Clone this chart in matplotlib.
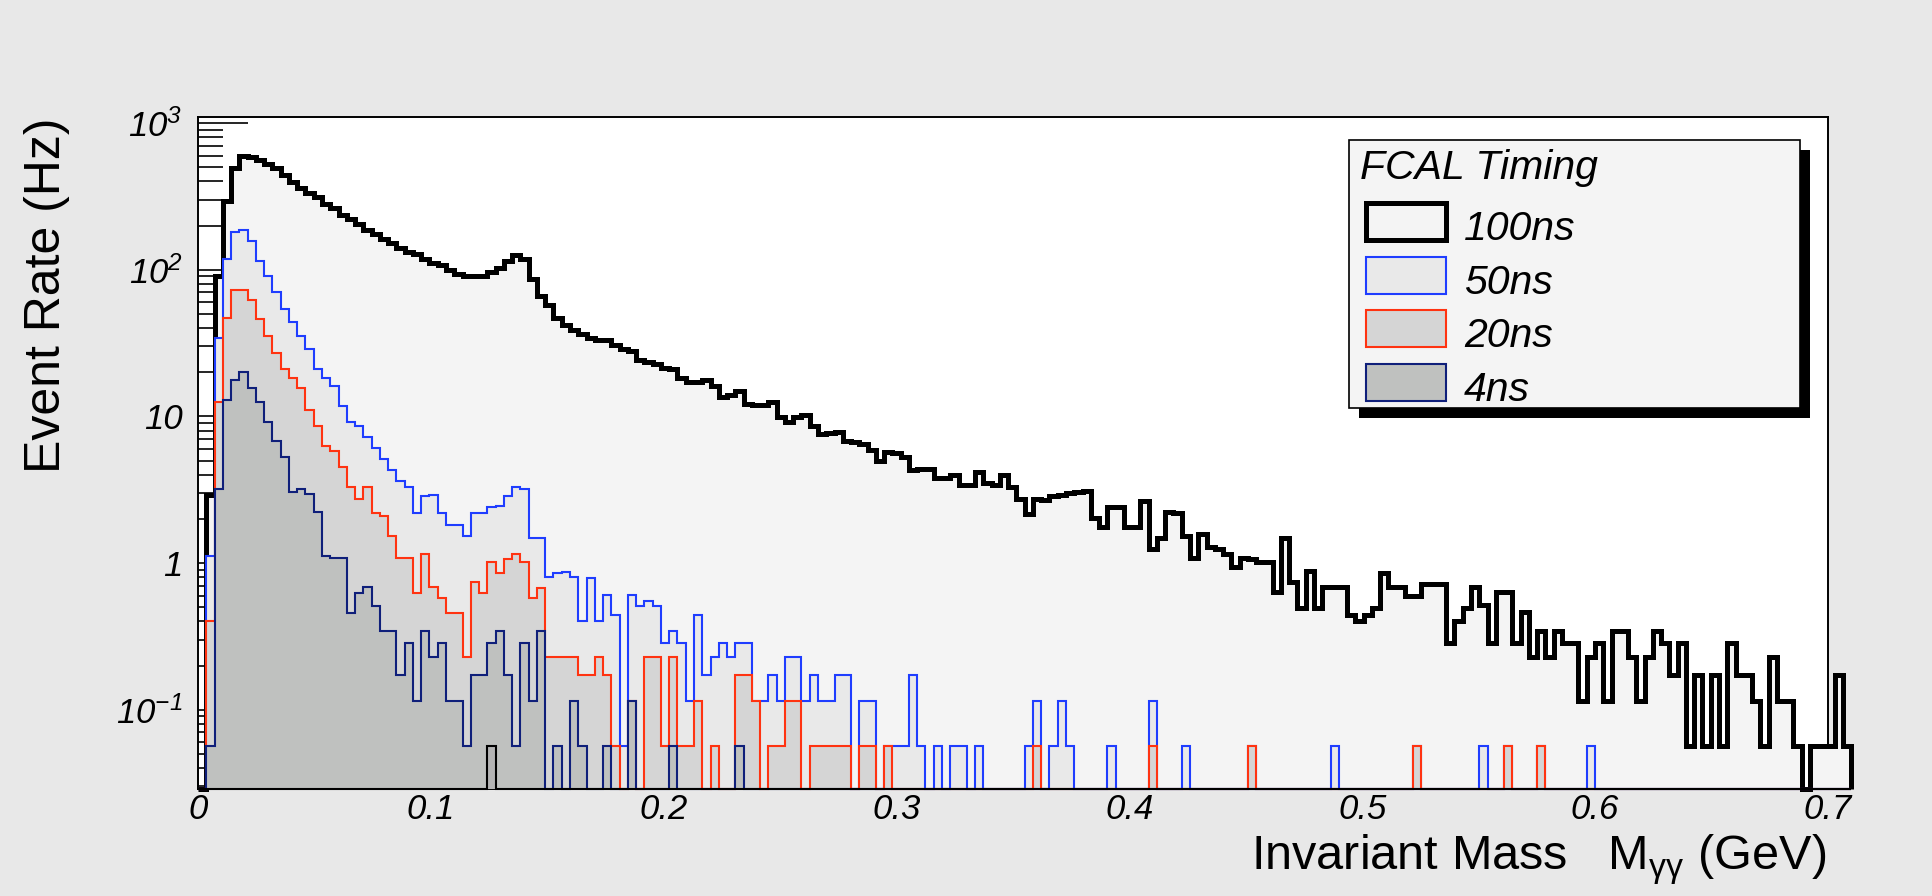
import numpy as np
import matplotlib
matplotlib.use("Agg")
import matplotlib.pyplot as plt
from matplotlib.patches import Rectangle
from matplotlib.ticker import MultipleLocator, LogLocator, NullFormatter

plt.rcParams['font.family'] = ['Liberation Sans', 'DejaVu Sans']

# binning of the invariant mass histograms (GeV), 200 bins
edges = np.linspace(0.0, 0.71, 201)

# event rate per bin (Hz)
rate_100ns = [
    0, 2.9, 91, 292, 490, 600, 590, 560, 525, 490,
    441, 398, 359, 335, 313, 282, 264, 237, 222, 204,
    186, 174, 162, 151, 141, 132, 127, 119, 111, 107,
    100, 93, 90, 90, 91, 97, 103, 115, 126, 119,
    87, 66, 57, 47, 42, 39, 36.5, 34, 33, 33,
    30.7, 28.8, 27.8, 24.3, 23.5, 22.7, 21.5, 20.9, 18.4, 17.2,
    17.2, 17.8, 16, 13.5, 14, 15, 12.2, 12.0, 12.0, 12.6,
    9.9, 9.1, 9.9, 10.2, 8.6, 7.6, 7.7, 7.8, 6.8, 6.7,
    6.5, 5.9, 5.0, 5.7, 5.6, 5.3, 4.3, 4.4, 4.4, 3.8,
    3.8, 4.0, 3.4, 3.4, 4.2, 3.5, 3.4, 4.0, 3.3, 2.75,
    2.16, 2.75, 2.7, 2.85, 2.9, 3.0, 3.05, 3.1, 2.02, 1.76,
    2.4, 2.4, 1.76, 1.76, 2.66, 1.24, 1.48, 2.24, 2.2, 1.53,
    1.08, 1.58, 1.29, 1.24, 1.16, 0.94, 1.08, 1.07, 1.01, 1.01,
    0.63, 1.48, 0.74, 0.49, 0.88, 0.49, 0.69, 0.69, 0.69, 0.44,
    0.40, 0.44, 0.49, 0.85, 0.69, 0.69, 0.60, 0.60, 0.72, 0.72,
    0.72, 0.286, 0.40, 0.49, 0.69, 0.52, 0.286, 0.63, 0.63, 0.286,
    0.46, 0.229, 0.343, 0.229, 0.343, 0.286, 0.286, 0.114, 0.229, 0.286,
    0.114, 0.343, 0.343, 0.229, 0.114, 0.229, 0.343, 0.286, 0.172, 0.286,
    0.057, 0.172, 0.057, 0.172, 0.057, 0.286, 0.172, 0.172, 0.114, 0.057,
    0.229, 0.114, 0.114, 0.057, 0, 0.057, 0.057, 0.057, 0.172, 0.057,
]

rate_50ns = [
    0, 1.12, 34, 119, 180, 186, 157, 115, 90, 71,
    54, 44, 35.5, 29, 21, 18.2, 16, 11.7, 9.2, 8.6,
    7.2, 6.1, 5.1, 4.3, 3.6, 3.3, 2.2, 2.85, 2.9, 2.2,
    1.82, 1.82, 1.53, 2.2, 2.2, 2.4, 2.45, 2.85, 3.3, 3.2,
    1.48, 1.48, 0.80, 0.85, 0.87, 0.80, 0.40, 0.79, 0.40, 0.61,
    0.44, 0.057, 0.61, 0.51, 0.55, 0.51, 0.286, 0.343, 0.286, 0.114,
    0.44, 0.172, 0.229, 0.286, 0.229, 0.286, 0.286, 0.114, 0.114, 0.172,
    0.114, 0.229, 0.229, 0.114, 0.172, 0.114, 0.114, 0.172, 0.172, 0,
    0.114, 0.114, 0, 0.057, 0.057, 0.057, 0.172, 0.057, 0, 0.057,
    0, 0.057, 0.057, 0, 0.057, 0, 0, 0, 0, 0,
    0.057, 0.114, 0, 0.057, 0.114, 0.057, 0, 0, 0, 0,
    0.057, 0, 0, 0, 0, 0.114, 0, 0, 0, 0.057,
    0, 0, 0, 0, 0, 0, 0, 0.057, 0, 0,
    0, 0, 0, 0, 0, 0, 0, 0.057, 0, 0,
    0, 0, 0, 0, 0, 0, 0, 0.057, 0, 0,
    0, 0, 0, 0, 0, 0.057, 0, 0, 0.057, 0,
    0, 0, 0.057, 0, 0, 0, 0, 0, 0.057, 0,
    0, 0, 0, 0, 0, 0, 0, 0, 0, 0,
    0, 0, 0, 0, 0, 0, 0, 0, 0, 0,
    0, 0, 0, 0, 0, 0, 0, 0, 0, 0,
]

rate_20ns = [
    0, 0.40, 12.6, 47, 73, 73, 62, 46, 35.5, 27,
    21, 18.2, 15.5, 11.1, 8.6, 6.3, 5.8, 4.5, 3.3, 2.75,
    3.3, 2.2, 2.1, 1.53, 1.08, 1.08, 0.62, 1.16, 0.69, 0.58,
    0.458, 0.458, 0.229, 0.74, 0.62, 1.01, 0.85, 1.06, 1.16, 1.01,
    0.58, 0.68, 0.229, 0.229, 0.229, 0.229, 0.172, 0.172, 0.229, 0.172,
    0.057, 0, 0.114, 0, 0.229, 0.229, 0.057, 0.229, 0.057, 0.057,
    0.114, 0, 0.057, 0, 0, 0.172, 0.172, 0.114, 0, 0.057,
    0.057, 0.114, 0.114, 0, 0.057, 0.057, 0.057, 0.057, 0.057, 0,
    0.057, 0.057, 0, 0.057, 0, 0, 0, 0, 0, 0,
    0, 0, 0, 0, 0, 0, 0, 0, 0, 0,
    0, 0.057, 0, 0, 0, 0, 0, 0, 0, 0,
    0, 0, 0, 0, 0, 0.057, 0, 0, 0, 0,
    0, 0, 0, 0, 0, 0, 0, 0.057, 0, 0,
    0, 0, 0, 0, 0, 0, 0, 0, 0, 0,
    0, 0, 0, 0, 0, 0, 0, 0.057, 0, 0,
    0, 0, 0, 0, 0, 0, 0, 0, 0.057, 0,
    0, 0, 0.057, 0, 0, 0, 0, 0, 0, 0,
    0, 0, 0, 0, 0, 0, 0, 0, 0, 0,
    0, 0, 0, 0, 0, 0, 0, 0, 0, 0,
    0, 0, 0, 0, 0, 0, 0, 0, 0, 0,
]

rate_4ns = [
    0, 0.057, 3.2, 13, 17.8, 20, 15.5, 12.6, 9.1, 6.8,
    5.3, 3.05, 3.2, 2.95, 2.24, 1.12, 1.08, 1.08, 0.458, 0.62,
    0.69, 0.51, 0.343, 0.343, 0.172, 0.286, 0.114, 0.343, 0.229, 0.286,
    0.114, 0.114, 0.057, 0.172, 0.172, 0.286, 0.343, 0.172, 0.057, 0.286,
    0.114, 0.343, 0, 0.057, 0, 0.114, 0.057, 0, 0, 0.057,
    0, 0, 0.114, 0, 0, 0, 0, 0.057, 0, 0,
    0, 0, 0, 0, 0, 0.057, 0, 0, 0, 0,
] + [0] * 130

# one extra unlabelled histogram with a single entry
rate_other = [0] * 35 + [0.057] + [0] * 164

labels = ['100ns', '50ns', '20ns', '4ns']
fills = ['#f4f4f4', '#e9e9e9', '#d5d5d5', '#bfc1bf']
lines = ['black', '#1f3dff', '#ff3311', '#0f1f7a']
widths = [3.6, 1.5, 1.5, 1.5]

xticks = [0, 0.1, 0.2, 0.3, 0.4, 0.5, 0.6, 0.7]
xtick_labels = ['0', '0.1', '0.2', '0.3', '0.4', '0.5', '0.6', '0.7']
yticks = [0.1, 1, 10, 100, 1000]
ytick_labels = [r'$\mathregular{10^{-1}}$', '1', '10',
                r'$\mathregular{10^{2}}$', r'$\mathregular{10^{3}}$']

W, H = 1933, 896
ymin, ymax = 0.0288, 1099

fig = plt.figure(figsize=(W / 100, H / 100), dpi=100, facecolor='#e8e8e8')
ax = fig.add_axes([198 / W, 1 - 789 / H, (1828 - 198) / W, (789 - 117) / H])
ax.set_facecolor('white')
ax.set_yscale('log')
ax.set_axisbelow(True)


def draw_hist(rates, face, edge, lw, z):
    r = np.maximum(np.asarray(rates, dtype=float), ymin)
    ax.stairs(r, edges, baseline=ymin, fill=True, facecolor=face,
              zorder=z, clip_on=False)
    ax.stairs(r, edges, baseline=ymin, fill=False, edgecolor=edge, lw=lw,
              joinstyle='miter', zorder=z + 0.1, clip_on=False)


all_rates = [rate_100ns, rate_50ns, rate_20ns, rate_4ns]
for i in range(4):
    draw_hist(all_rates[i], fills[i], lines[i], widths[i], 1 + i)
draw_hist(rate_other, '#b4b4b4', 'black', 1.5, 6)

ax.set_xlim(0, 0.70)
ax.set_ylim(ymin, ymax)

for s in ax.spines.values():
    s.set_linewidth(1.4)
    s.set_zorder(0.6)

ax.set_xticks(xticks)
ax.set_xticklabels(xtick_labels, fontsize=25, fontstyle='italic')
ax.xaxis.set_minor_locator(MultipleLocator(0.02))
ax.set_yticks(yticks)
ax.set_yticklabels(ytick_labels, fontsize=25, fontstyle='italic')
ax.yaxis.set_minor_locator(LogLocator(base=10, subs=np.arange(2, 10), numticks=20))
ax.yaxis.set_minor_formatter(NullFormatter())
ax.tick_params(axis='x', which='major', direction='in', length=14.4, width=1.2, pad=3)
ax.tick_params(axis='x', which='minor', direction='in', length=7.2, width=1.2)
ax.tick_params(axis='y', which='major', direction='in', length=36, width=1.2, pad=11)
ax.tick_params(axis='y', which='minor', direction='in', length=18, width=1.2)

# axis titles
fig.text(47 / W, 1 - 117 / H, 'Event Rate (Hz)', rotation=90, ha='center', va='top',
         fontsize=36)
fig.text(1826 / W, 1 - 870 / H, r'Invariant Mass   M$_{\mathregular{\gamma\gamma}}$ (GeV)',
         ha='right', va='baseline', fontsize=35)


# legend box drawn in pixel coordinates like the ROOT TLegend
def px_rect(x0, y0, x1, y1, **kw):
    fig.add_artist(Rectangle((x0 / W, 1 - y1 / H), (x1 - x0) / W, (y1 - y0) / H,
                             transform=fig.transFigure, **kw))


px_rect(1359, 150, 1810, 418, facecolor='black', edgecolor='none', zorder=10)
px_rect(1349, 140, 1800, 408, facecolor='#f4f4f4', edgecolor='black', lw=1.2, zorder=11)
fig.text(1360 / W, 1 - 179 / H, 'FCAL Timing', fontsize=29.5, fontstyle='italic',
         va='baseline', zorder=12)
box_top = [203, 257, 310, 364]
for i in range(4):
    px_rect(1366, box_top[i], 1446, box_top[i] + 37, facecolor=fills[i],
            edgecolor=lines[i], lw=widths[i], joinstyle='miter', zorder=12)
    fig.text(1464 / W, 1 - (box_top[i] + 37) / H, labels[i], fontsize=29.5,
             fontstyle='italic', va='baseline', zorder=12)

fig.savefig('out.png', dpi=100, facecolor=fig.get_facecolor())
